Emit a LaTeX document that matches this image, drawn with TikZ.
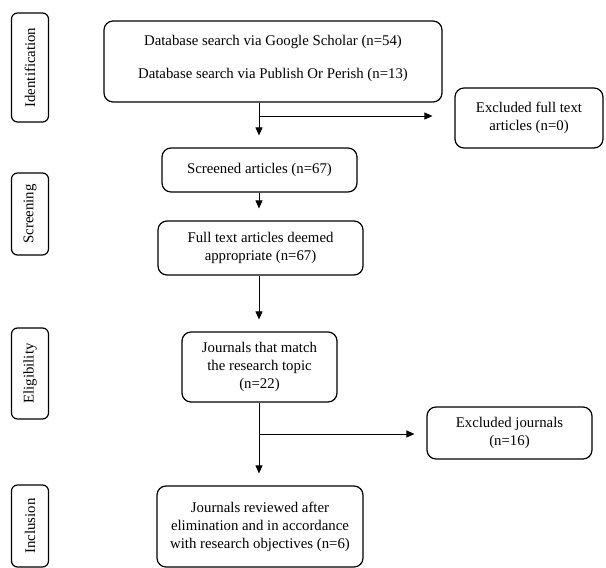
\documentclass[tikz,border=0pt]{standalone}
\usepackage{fontspec}
\setmainfont{Liberation Serif}
\usetikzlibrary{arrows.meta}
\tikzstyle{box}=[draw, line width=1.2pt, rounded corners=9pt, align=center, inner sep=2pt, font=\fontsize{14.8}{18}\selectfont]
\tikzstyle{stage}=[box, rotate=90, rounded corners=6pt]
\tikzstyle{arr}=[-{Triangle[width=7pt,length=8pt]}, line width=0.9pt, shorten >=12pt]

\begin{document}
\begin{tikzpicture}[x=1pt,y=-1pt]
\useasboundingbox (0,0) rectangle (606,568);
\foreach \n/\y/\h/\t in {1/67.5/109/Identification, 2/214/82/Screening, 3/373.5/91/Eligibility, 4/526/82/Inclusion} {
 \node[stage, minimum width=\h pt, minimum height=37pt] (st\n) at (30,\y) {\t};
}
\node[box, minimum width=338pt, minimum height=81pt] (db) at (273,61.5) {Database search via Google Scholar (n=54)\\[15pt] Database search via Publish Or Perish (n=13)\\[-8pt]};
\node[box, minimum width=148pt, minimum height=60pt] (ex1) at (529,118) {Excluded full text\\ articles (n=0)};
\node[box, minimum width=195pt, minimum height=44pt] (scr) at (259.5,170) {Screened articles (n=67)};
\node[box, minimum width=205pt, minimum height=54pt] (full) at (260.5,248) {Full text articles deemed\\ appropriate (n=67)};
\node[box, minimum width=155pt, minimum height=70pt] (jm) at (259.5,367) {Journals that match\\ the research topic\\ (n=22)};
\node[box, minimum width=165pt, minimum height=52pt] (ex2) at (509.5,433) {Excluded journals\\ (n=16)};
\node[box, minimum width=206pt, minimum height=81pt] (jr) at (260,526.5) {Journals reviewed after\\ elimination and in accordance\\ with research objectives (n=6)};
% arrows
\coordinate (col) at (259,0);
\coordinate (b1) at (259,116);
\coordinate (b2) at (259,434);
\draw[arr] (db.south -| col) -- (scr.north -| col);
\draw[arr, shorten >=22pt] (b1) -- (b1 -| ex1.west);
\draw[arr] (scr.south -| col) -- (full.north -| col);
\draw[arr] (full.south -| col) -- (jm.north -| col);
\draw[arr] (jm.south -| col) -- (jr.north -| col);
\draw[arr] (b2) -- (b2 -| ex2.west);
\end{tikzpicture}
\end{document}
